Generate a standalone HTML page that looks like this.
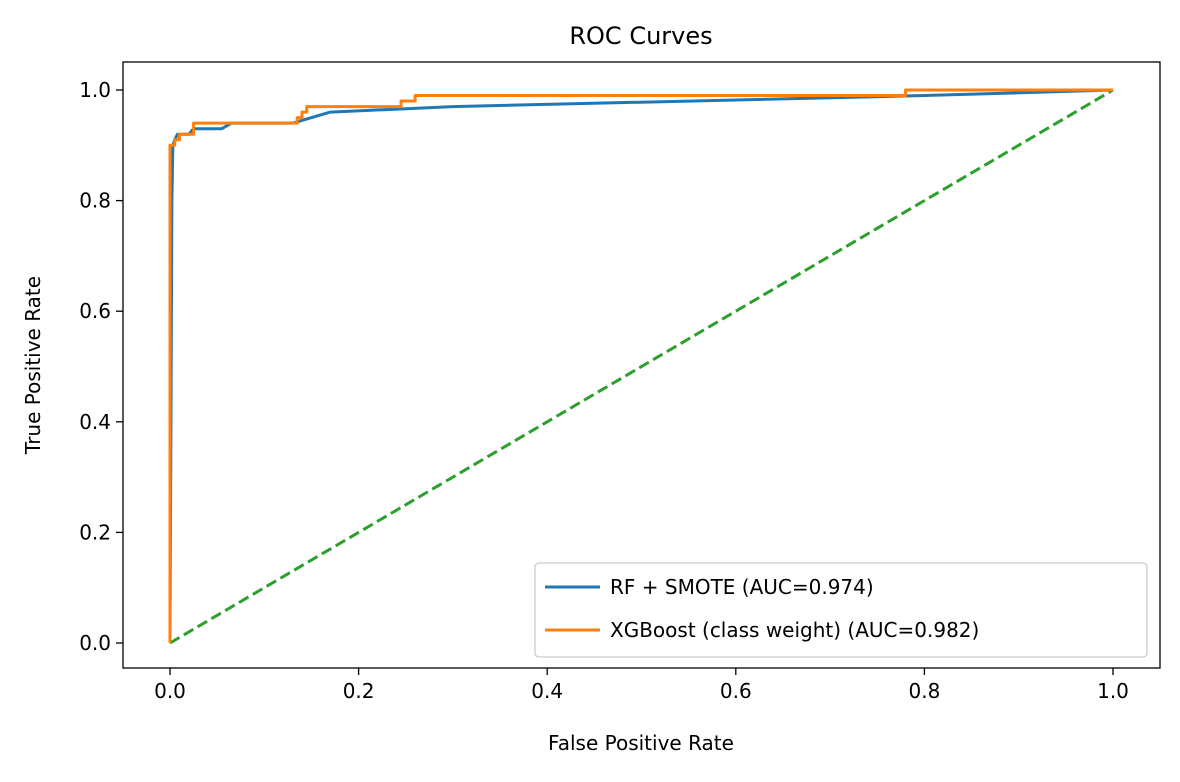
<!DOCTYPE html>
<html><head><meta charset="utf-8"><style>
body{margin:0;background:#fff;font-family:"Liberation Sans","DejaVu Sans",sans-serif}
</style></head><body>
<svg id="chart" width="1180" height="777" font-family="DejaVu Sans, Liberation Sans, sans-serif">
<text x="641" y="44" font-size="24" text-anchor="middle">ROC Curves</text>
<text x="641" y="750" font-size="20" text-anchor="middle">False Positive Rate</text>
<text transform="translate(40,365) rotate(-90)" font-size="20" text-anchor="middle">True Positive Rate</text>
<g id="ticks"></g>
<g id="series"></g>
<rect x="123" y="62" width="1037" height="606" fill="none" stroke="#000" stroke-width="1.3"/>
<g>
<rect x="535" y="563" width="612" height="94" rx="4" fill="#fff" fill-opacity="0.8" stroke="#ccc" stroke-width="1.3"/>
<line x1="545" y1="587" x2="600" y2="587" stroke="#1f77b4" stroke-width="3"/>
<text x="610" y="594" font-size="20">RF + SMOTE (AUC=0.974)</text>
<line x1="545" y1="630" x2="600" y2="630" stroke="#ff7f0e" stroke-width="3"/>
<text x="610" y="637" font-size="20">XGBoost (class weight) (AUC=0.982)</text>
</g>
</svg>
<script>
const xTicks=[0,0.2,0.4,0.6,0.8,1.0];
const yTicks=[0,0.2,0.4,0.6,0.8,1.0];
const rfFpr=[0,0.002,0.003,0.005,0.008,0.02,0.025,0.055,0.065,0.13,0.17,0.3,0.8,1];
const rfTpr=[0,0.8,0.9,0.91,0.92,0.92,0.93,0.93,0.94,0.94,0.96,0.97,0.99,1];
const xgbFpr=[0,0,0.005,0.005,0.01,0.01,0.025,0.025,0.135,0.135,0.14,0.14,0.145,0.145,0.245,0.245,0.26,0.26,0.78,0.78,1];
const xgbTpr=[0,0.9,0.9,0.91,0.91,0.92,0.92,0.94,0.94,0.95,0.95,0.96,0.96,0.97,0.97,0.98,0.98,0.99,0.99,1.0,1.0];
const chanceFpr=[0,1];
const chanceTpr=[0,1];
const X=v=>170+943*v, Y=v=>643-553*v;
const NS="http://www.w3.org/2000/svg";
const tg=document.getElementById('ticks'), sg=document.getElementById('series');
function mk(t,a,p){const e=document.createElementNS(NS,t);for(const k in a)e.setAttribute(k,a[k]);p.appendChild(e);return e;}
xTicks.forEach(v=>{
 const l=mk('line',{x1:X(v),x2:X(v),y1:668,y2:675,stroke:'#000','stroke-width':1.3},tg);
 
 
 const t=mk('text',{x:X(v),y:698,'font-size':20,'text-anchor':'middle'},tg);t.textContent=v.toFixed(1);
 
 
});
yTicks.forEach(v=>{
 const l=mk('line',{x1:116,x2:123,y1:Y(v),y2:Y(v),stroke:'#000','stroke-width':1.3},tg);
 
 
 const t=mk('text',{x:111,y:Y(v)+7,'font-size':20,'text-anchor':'end'},tg);t.textContent=v.toFixed(1);
 
 
});
function line(xs,ys,color,name,dash){
 const p=mk('polyline',{points:xs.map((x,i)=>X(x)+','+Y(ys[i])).join(' '),fill:'none',stroke:color,'stroke-width':3,'stroke-linejoin':'round'},sg);
 if(dash)p.setAttribute('stroke-dasharray',dash);
 
 
}
line(chanceFpr,chanceTpr,'#2ca02c','chance-line','11,5');
line(rfFpr,rfTpr,'#1f77b4','rf-smote-curve');
line(xgbFpr,xgbTpr,'#ff7f0e','xgboost-curve');
</script>
</body></html>
